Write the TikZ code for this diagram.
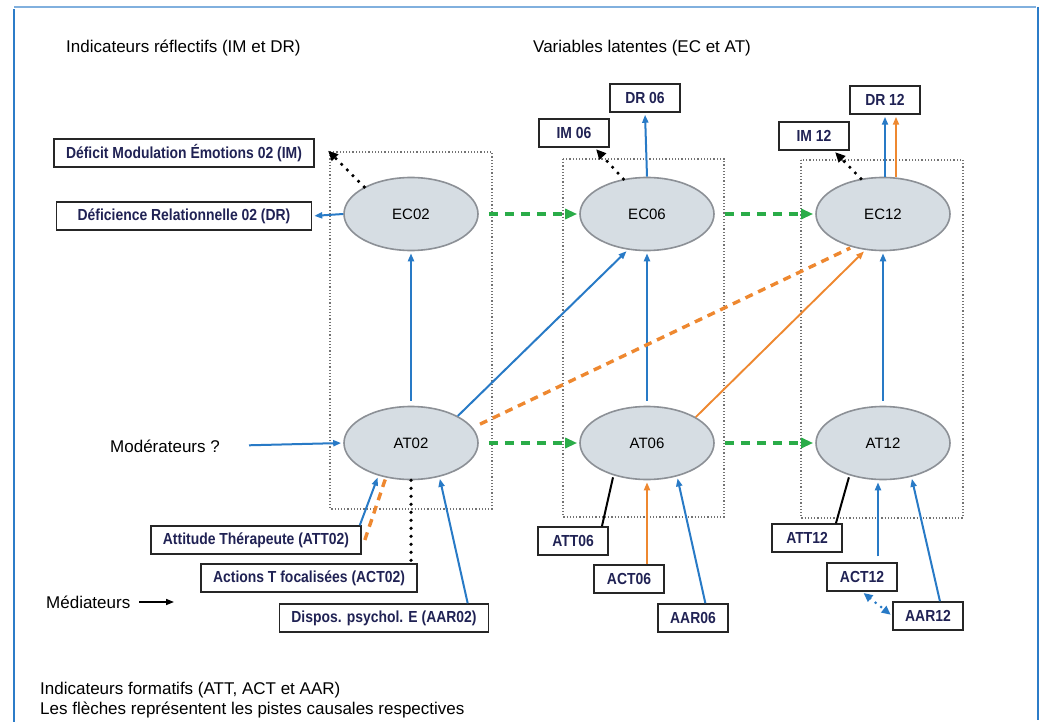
\documentclass[tikz,border=0pt]{standalone}
\usepackage{fontspec}
\setmainfont{Liberation Sans}
\newfontfamily\boxfont[FakeStretch=0.87]{Liberation Sans}
\usetikzlibrary{arrows.meta, positioning, shapes.geometric}
\definecolor{pathblue}{RGB}{40,122,198}
\definecolor{pathorange}{RGB}{238,136,48}
\definecolor{pathgreen}{RGB}{42,172,72}
\definecolor{latentfill}{RGB}{214,221,227}
\definecolor{latentdraw}{RGB}{140,144,150}
\definecolor{indtext}{RGB}{32,34,84}
\definecolor{frameblue}{RGB}{44,124,200}
\begin{document}
\begin{tikzpicture}[->, >={Triangle[length=8pt, width=6pt]}, shorten >=2pt, x=1pt, y=-1pt, node distance = 236pt,
    latent/.style={ellipse, draw=latentdraw, line width=1.6pt, fill=latentfill, minimum width=134pt, minimum height=73pt, inner sep=0pt, font=\fontsize{15}{17}\selectfont},
    indicator/.style={rectangle, draw=black!85, line width=1.5pt, text=indtext, minimum height=28pt, minimum width=70pt, inner xsep=12pt, font=\boxfont\bfseries\fontsize{16}{18}\selectfont},
    plain/.style={anchor=west, inner sep=0pt, font=\fontsize{17}{20.4}\selectfont},
    frame/.style={-, draw=black!55, line width=1.3pt, dash pattern=on 1.2pt off 2pt},
    bluepath/.style={draw=pathblue, line width=2pt},
    orangepath/.style={draw=pathorange, line width=1.9pt},
    orangedash/.style={-, draw=pathorange, line width=3.4pt, dash pattern=on 8pt off 6pt},
    greendash/.style={draw=pathgreen, line width=3.4pt, dash pattern=on 9pt off 7pt, shorten <=10pt, >={Triangle[length=12pt, width=10pt]}},
    blackdots/.style={draw=black, line width=3.6pt, line cap=round, dash pattern=on 0pt off 8pt, >={Triangle[length=10pt, width=9pt]}},
    blackline/.style={-, draw=black, line width=2pt},
    bluedots/.style={<->, draw=pathblue, line width=3pt, line cap=round, dash pattern=on 0pt off 7pt, shorten <=2pt, >={Triangle[length=9pt, width=8pt]}}]
    \useasboundingbox (0,0) rectangle (1047,722);
    \draw [-, frameblue, line width=2pt] (14,722) -- (14,7);
    \draw [-, frameblue!60, line width=2pt] (14,7) -- (1038,7);
    \draw [-, frameblue, line width=2pt] (1038,7) -- (1038,722);
    \draw [frame] (330,152) rectangle (492,509);
    \draw [frame] (563,159) rectangle (724,517);
    \draw [frame] (801,160) rectangle (963,518);
    \node [latent] (EC02) at (411,214) {EC02};
    \node [latent] (EC06) [right of=EC02] {EC06};
    \node [latent] (EC12) [right of=EC06] {EC12};
    \node [latent] (AT02) [below of=EC02, node distance=229pt] {AT02};
    \node [latent] (AT06) [below of=EC06, node distance=229pt] {AT06};
    \node [latent] (AT12) [below of=EC12, node distance=229pt] {AT12};
    \node [indicator, minimum width=255pt] (DMIM02) at (184,153) {Déficit Modulation Émotions 02 (IM)};
    \node [indicator, minimum width=255pt] (DRDR02) at (184,216) {Déficience Relationnelle 02 (DR)};
    \node [indicator] (DR06) at (645,98) {DR 06};
    \node [indicator] (IM06) at (574,133) {IM 06};
    \node [indicator] (DR12) at (885,100) {DR 12};
    \node [indicator] (IM12) at (814,136) {IM 12};
    \node [indicator] (ATT02) at (256,540) {Attitude Thérapeute (ATT02)};
    \node [indicator] (ACT02) at (309,578) {Actions T focalisées (ACT02)};
    \node [indicator] (AAR02) at (384,618) {Dispos. psychol. E (AAR02)};
    \node [indicator] (ATT06) at (573,541) {ATT06};
    \node [indicator] (ACT06) at (629,579) {ACT06};
    \node [indicator] (AAR06) at (693,618) {AAR06};
    \node [indicator] (ATT12) at (807,538) {ATT12};
    \node [indicator] (ACT12) at (862,577) {ACT12};
    \node [indicator] (AAR12) at (928,616) {AAR12};
    \node [plain] (reflective) at (66,48) {Indicateurs réflectifs (IM et DR)};
    \node [plain] (latentvars) at (533,48) {Variables latentes (EC et AT)};
    \node [plain] (moderators) at (110,446) {Modérateurs ?};
    \node [plain] (mediators) at (46,602) {Médiateurs};
    \node [plain, align=left] (formative) at (40,700) {Indicateurs formatifs (ATT, ACT et AAR)\\Les flèches représentent les pistes causales respectives};
    \coordinate (medtip) at (176,602);
    \path (EC02.west) edge [bluepath] (DRDR02.east);
    \path (EC02.150) edge [blackdots] ([xshift=12pt, yshift=-11pt]DMIM02.north east);
    \path (EC06.north) edge [bluepath] (DR06.south);
    \path (EC06.124) edge [blackdots] ([xshift=-15pt]IM06.south east);
    \path ([xshift=2pt]EC12.north) edge [bluepath] (DR12.south);
    \path ([xshift=13pt]EC12.north) edge [orangepath] ([xshift=11pt]DR12.south);
    \path (EC12.122) edge [blackdots] ([xshift=-16pt]IM12.south east);
    \path (EC02.east) edge [greendash] (EC06.west);
    \path (EC06.east) edge [greendash] (EC12.west);
    \path (AT02.east) edge [greendash] (AT06.west);
    \path (AT06.east) edge [greendash] (AT12.west);
    \path (AT02.north) edge [bluepath, shorten <=5pt] (EC02.south);
    \path (AT06.north) edge [bluepath, shorten <=5pt] (EC06.south);
    \path (AT12.north) edge [bluepath, shorten <=5pt] (EC12.south);
    \path (AT02.30) edge [bluepath] (EC06.-118);
    \path (AT02.14) edge [orangedash, shorten <=8pt] (EC12.-133);
    \path (AT06.28) edge [orangepath] (EC12.-116);
    \path (moderators.east) edge [bluepath, shorten <=29pt] (AT02.west);
    \path (mediators.east) edge [blackline, ->, line width=1.5pt, shorten <=9pt] (medtip);
    \path ([xshift=-2pt]ATT02.north east) edge [bluepath] (AT02.-135);
    \path ([xshift=3pt]ATT02.east) edge [orangedash] (AT02.-126);
    \path (AT02.south) edge [blackdots, -] (AT02.south |- ACT02.north);
    \path (AAR02.10) edge [bluepath] (AT02.-50);
    \path (ATT06.27) edge [blackline] (AT06.-136);
    \path (ACT06.north -| AT06.south) edge [orangepath] (AT06.south);
    \path (AAR06.50) edge [bluepath] (AT06.-48);
    \path (ATT12.27) edge [blackline] (AT12.-136);
    \path ([xshift=16pt]ACT12.north) edge [bluepath, shorten <=6pt] ([xshift=-5pt]AT12.south);
    \path (AAR12.51) edge [bluepath] (AT12.-50);
    \path (ACT12.south) edge [bluedots] (AAR12.west);
\end{tikzpicture}
\end{document}
